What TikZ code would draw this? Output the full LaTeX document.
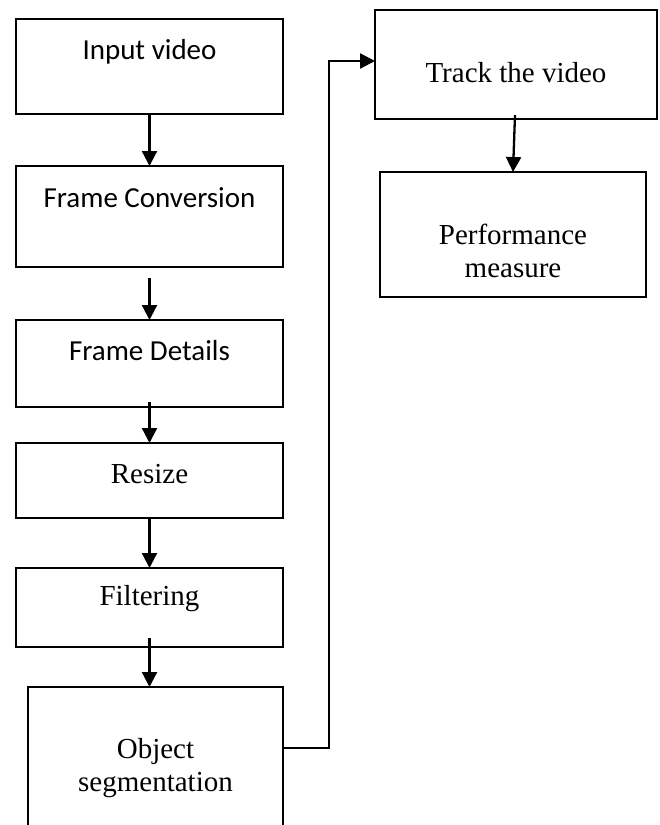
\documentclass[tikz,border=0pt]{standalone}
\usepackage{fontspec}
\setmainfont{Liberation Serif}
\newfontfamily\calfont{Carlito}
\usetikzlibrary{arrows.meta}
\tikzset{
  box/.style={draw=black, line width=2.3pt, inner sep=0pt, outer sep=0pt, fill=none},
  arr/.style={draw=black, line width=2.3pt, -{Triangle[length=15pt,width=15pt]}},
  sanstxt/.style={font=\calfont\fontsize{29}{33}\selectfont, inner sep=0pt, anchor=base},
  seriftxt/.style={font=\fontsize{29}{33}\selectfont, inner sep=0pt, anchor=base, align=center}
}
\begin{document}
\begin{tikzpicture}[x=1pt,y=-1pt]
\useasboundingbox (0,0) rectangle (659,825);
\clip (0,0) rectangle (659,825);
\fill[white] (0,0) rectangle (659,825);
% boxes
\node[box, minimum width=267pt, minimum height=95pt] (input) at (149.5,66.5) {};
\node[box, minimum width=267pt, minimum height=101pt] (conv) at (149.5,216.5) {};
\node[box, minimum width=267pt, minimum height=87pt] (details) at (149.5,363.5) {};
\node[box, minimum width=267pt, minimum height=75pt] (resize) at (149.5,480.5) {};
\node[box, minimum width=267pt, minimum height=79pt] (filter) at (149.5,607.5) {};
\node[box, minimum width=255pt, minimum height=173pt] (object) at (155.5,773.5) {};
\node[box, minimum width=282pt, minimum height=109pt] (track) at (516,64.5) {};
\node[box, minimum width=266pt, minimum height=125pt] (perf) at (513,234.5) {};
% texts
\node[sanstxt] (tinput) at (149.5,59) {Input video};
\node[sanstxt] (tconv) at (149.5,207) {Frame Conversion};
\node[sanstxt] (tdetails) at (149.5,360) {Frame Details};
\node[seriftxt] (tresize) at (149.5,483) {Resize};
\node[seriftxt] (tfilter) at (149.5,605) {Filtering};
\node[seriftxt] (tobject) at (155.5,791) {Object\\segmentation};
\node[seriftxt] (ttrack) at (516,82) {Track the video};
\node[seriftxt] (tperf) at (513,277) {Performance\\measure};
% connectors
\draw[arr] (input.south) -- (conv.north);
\draw[arr] ([yshift=-11pt]conv.south) -- (details.north);
\draw[arr] ([yshift=5pt]details.south) -- (resize.north);
\draw[arr] (resize.south) -- (filter.north);
\draw[arr] ([yshift=9pt]filter.south) -- (filter.south |- object.north);
\draw[arr] ([xshift=-1pt,yshift=4pt]track.south) -- (perf.north);
\coordinate (c1) at (329,748);
\coordinate (c2) at (329,61);
\draw[arr] (object.east |- c1) -- (c1) -- (c2) -- (c2 -| track.west);
\end{tikzpicture}
\end{document}
